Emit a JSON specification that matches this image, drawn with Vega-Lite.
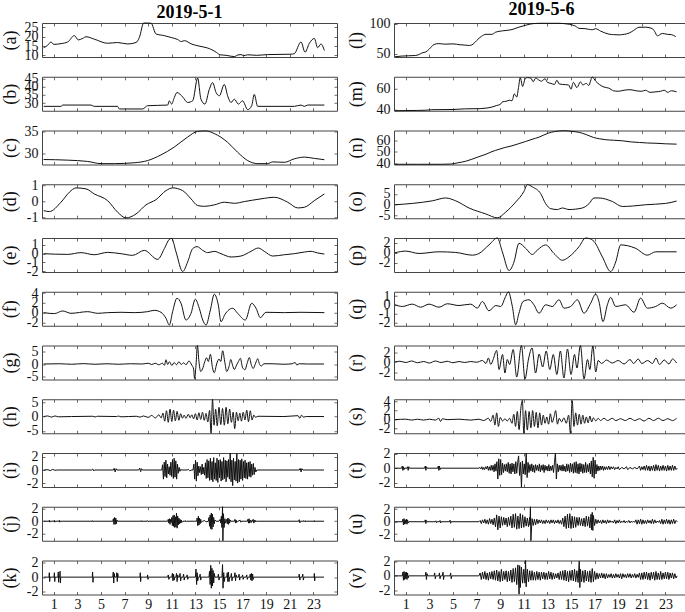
{
"$schema":"https://vega.github.io/schema/vega-lite/v6.json",
"padding":{"left":0,"top":0,"right":0,"bottom":0},
"config":{
 "font":"Liberation Serif",
 "view":{"stroke":"#444","strokeWidth":1},
 "line":{"color":"#111","strokeWidth":1,"clip":true,"interpolate":"monotone"},
 "axis":{"labelFont":"Liberation Serif","labelFontSize":14,"labelColor":"#111","titleFont":"Liberation Serif","titleFontSize":18,"titleFontWeight":"normal","titleColor":"#111","ticks":false,"domain":false,"grid":true,"gridColor":"#444","gridOpacity":1,"gridWidth":0.8,"labelOverlap":false,"labelFlush":false,"labelPadding":4},
 "axisX":{"gridDash":[3,28],"labelPadding":3},
 "axisY":{"gridDash":[3,289],"labelExpr":"''+datum.value"},
 "title":{"font":"Liberation Serif","fontSize":18,"fontWeight":"bold","color":"#000","anchor":"middle","offset":-2,"frame":"group"}
},
"datasets":{
"a":[{"x":0.14,"y":14.1},{"x":0.48,"y":15.4},{"x":0.76,"y":17.2},{"x":0.99,"y":15.9},{"x":1.61,"y":16.3},{"x":2.18,"y":17.2},{"x":2.74,"y":20.6},{"x":3.08,"y":18.3},{"x":3.45,"y":19.1},{"x":3.73,"y":20.0},{"x":4.43,"y":18.7},{"x":5.56,"y":16.5},{"x":6.41,"y":16.9},{"x":7.26,"y":16.1},{"x":7.97,"y":16.9},{"x":8.25,"y":19.6},{"x":8.62,"y":27.4},{"x":9.24,"y":27.3},{"x":9.66,"y":21.5},{"x":10.37,"y":20.6},{"x":11.0,"y":19.5},{"x":11.5,"y":18.5},{"x":11.8,"y":17.4},{"x":12.06,"y":17.9},{"x":12.7,"y":16.0},{"x":13.3,"y":15.0},{"x":14.0,"y":14.0},{"x":14.4,"y":13.0},{"x":14.8,"y":11.5},{"x":15.1,"y":10.3},{"x":15.6,"y":10.0},{"x":16.3,"y":9.3},{"x":16.6,"y":10.2},{"x":16.86,"y":10.4},{"x":17.1,"y":9.8},{"x":17.43,"y":10.3},{"x":18.2,"y":10.0},{"x":19.12,"y":10.4},{"x":21.1,"y":10.6},{"x":21.38,"y":10.9},{"x":21.95,"y":17.2},{"x":22.29,"y":11.7},{"x":22.66,"y":16.5},{"x":23.08,"y":19.1},{"x":23.36,"y":14.1},{"x":23.64,"y":16.1},{"x":23.93,"y":12.6}],
"b":[{"x":0.14,"y":28},{"x":1.61,"y":28},{"x":1.75,"y":28.8},{"x":4.15,"y":28.8},{"x":4.43,"y":28},{"x":6.41,"y":28},{"x":6.55,"y":26.4},{"x":8.53,"y":26.4},{"x":8.95,"y":28.4},{"x":10.65,"y":28.8},{"x":10.79,"y":31.4},{"x":10.99,"y":29.4},{"x":11.21,"y":33.4},{"x":11.44,"y":36.5},{"x":11.92,"y":33.8},{"x":12.34,"y":30.4},{"x":12.77,"y":31.4},{"x":13.19,"y":45.4},{"x":13.47,"y":32.4},{"x":13.81,"y":29.4},{"x":14.18,"y":38.5},{"x":14.46,"y":42.6},{"x":14.75,"y":36.5},{"x":15.03,"y":34.5},{"x":15.45,"y":41.5},{"x":15.73,"y":34.5},{"x":16.02,"y":30.4},{"x":16.3,"y":32.4},{"x":16.64,"y":29.4},{"x":17.0,"y":31.4},{"x":17.43,"y":26},{"x":17.77,"y":28.4},{"x":17.99,"y":35.3},{"x":18.28,"y":28},{"x":21.38,"y":28},{"x":21.95,"y":28.8},{"x":22.23,"y":28},{"x":22.51,"y":28.8},{"x":23.93,"y":28.8}],
"c":[{"x":0.14,"y":28.54},{"x":2.18,"y":28.4},{"x":3.87,"y":28.1},{"x":5.0,"y":27.6},{"x":6.13,"y":27.6},{"x":7.82,"y":27.8},{"x":8.95,"y":28.3},{"x":10.08,"y":29.6},{"x":11.21,"y":31.4},{"x":12.34,"y":33.7},{"x":13.19,"y":35},{"x":13.9,"y":35.1},{"x":14.6,"y":34.5},{"x":15.73,"y":32.5},{"x":16.58,"y":30.2},{"x":17.43,"y":28.3},{"x":18.28,"y":27.6},{"x":19.12,"y":27.6},{"x":19.55,"y":28},{"x":20.54,"y":27.9},{"x":21.38,"y":28.7},{"x":22.23,"y":29.1},{"x":23.08,"y":28.8},{"x":23.93,"y":28.5}],
"d":[{"x":0.14,"y":-0.59},{"x":0.62,"y":-0.65},{"x":1.61,"y":-0.06},{"x":2.32,"y":0.57},{"x":2.88,"y":0.84},{"x":3.73,"y":0.78},{"x":4.43,"y":0.46},{"x":5.56,"y":0.04},{"x":6.41,"y":-0.69},{"x":7.12,"y":-1.05},{"x":7.97,"y":-0.8},{"x":8.81,"y":-0.23},{"x":9.66,"y":0.1},{"x":10.51,"y":0.67},{"x":11.07,"y":0.84},{"x":11.92,"y":0.67},{"x":12.63,"y":0.15},{"x":13.19,"y":-0.27},{"x":13.76,"y":-0.32},{"x":14.6,"y":-0.23},{"x":15.45,"y":-0.06},{"x":16.3,"y":-0.13},{"x":17.15,"y":-0.02},{"x":18.56,"y":0.15},{"x":19.69,"y":0.25},{"x":20.82,"y":-0.06},{"x":21.67,"y":-0.42},{"x":22.23,"y":-0.38},{"x":23.08,"y":0.04},{"x":23.93,"y":0.46}],
"e":[{"x":0.14,"y":0},{"x":2.18,"y":-0.08},{"x":3.31,"y":0.12},{"x":4.43,"y":-0.12},{"x":5.56,"y":0.15},{"x":6.69,"y":0},{"x":7.68,"y":-0.19},{"x":8.67,"y":0.38},{"x":9.8,"y":-0.65},{"x":10.37,"y":0.58},{"x":10.79,"y":1.65},{"x":10.99,"y":1.75},{"x":11.36,"y":0.19},{"x":11.92,"y":-2.04},{"x":12.34,"y":-0.96},{"x":12.77,"y":0.58},{"x":13.14,"y":0.81},{"x":13.62,"y":0.38},{"x":14.04,"y":0.12},{"x":14.6,"y":0.27},{"x":15.17,"y":0},{"x":16.02,"y":-0.38},{"x":16.86,"y":-0.27},{"x":17.71,"y":0.27},{"x":18.33,"y":0.65},{"x":18.84,"y":0.27},{"x":19.55,"y":-0.27},{"x":20.54,"y":-0.12},{"x":21.38,"y":0},{"x":22.23,"y":0.19},{"x":22.8,"y":0.27},{"x":23.36,"y":0.08},{"x":23.93,"y":-0.04}],
"f":[{"x":0.14,"y":0},{"x":1.05,"y":-0.2},{"x":1.75,"y":0.34},{"x":2.46,"y":-0.14},{"x":3.87,"y":0.2},{"x":4.72,"y":-0.14},{"x":5.56,"y":0},{"x":6.69,"y":0.07},{"x":7.82,"y":0},{"x":8.95,"y":0.2},{"x":9.52,"y":0.48},{"x":10.08,"y":0.07},{"x":10.51,"y":-1.17},{"x":10.79,"y":-2.55},{"x":11.07,"y":0.2},{"x":11.44,"y":2.97},{"x":11.78,"y":1.93},{"x":12.2,"y":-1.52},{"x":12.63,"y":-0.14},{"x":12.99,"y":2.76},{"x":13.33,"y":0.9},{"x":13.62,"y":-1.52},{"x":13.9,"y":-2.55},{"x":14.27,"y":0.55},{"x":14.6,"y":3.79},{"x":14.94,"y":1.59},{"x":15.17,"y":-1.86},{"x":15.51,"y":-0.34},{"x":16.16,"y":0.9},{"x":16.58,"y":-0.14},{"x":17.23,"y":-1.52},{"x":17.77,"y":1.93},{"x":18.14,"y":0.9},{"x":18.5,"y":-1.03},{"x":18.98,"y":0.07},{"x":20.54,"y":0},{"x":21.95,"y":0.07},{"x":23.93,"y":0}],
"g":[{"x":0.14,"y":0},{"x":1.5,"y":0.1},{"x":2.5,"y":-0.1},{"x":3.5,"y":0.15},{"x":4.5,"y":-0.1},{"x":5.5,"y":0.1},{"x":6.5,"y":-0.1},{"x":7.5,"y":0.1},{"x":8.5,"y":0},{"x":9.0,"y":0.3},{"x":9.3,"y":-0.2},{"x":9.6,"y":0.3},{"x":9.9,"y":-0.3},{"x":10.2,"y":0.3},{"x":10.38,"y":-0.5},{"x":10.5,"y":1.7},{"x":10.65,"y":-0.2},{"x":10.8,"y":0.9},{"x":11.0,"y":-0.6},{"x":11.2,"y":0.6},{"x":11.4,"y":-0.3},{"x":11.6,"y":0.9},{"x":11.8,"y":-0.2},{"x":12.0,"y":0.5},{"x":12.2,"y":-0.3},{"x":12.45,"y":1.2},{"x":12.7,"y":-0.5},{"x":12.85,"y":-2},{"x":12.93,"y":-5.9},{"x":13.05,"y":-0.5},{"x":13.17,"y":7.4},{"x":13.3,"y":1},{"x":13.45,"y":-3},{"x":13.6,"y":-2},{"x":13.8,"y":1},{"x":13.95,"y":2.5},{"x":14.1,"y":1},{"x":14.27,"y":3.9},{"x":14.45,"y":-1.5},{"x":14.6,"y":-3.5},{"x":14.8,"y":0},{"x":15.0,"y":2},{"x":15.15,"y":1},{"x":15.31,"y":5.3},{"x":15.5,"y":0.5},{"x":15.65,"y":-3},{"x":15.85,"y":-1},{"x":16.0,"y":1.8},{"x":16.15,"y":-0.5},{"x":16.3,"y":-2.2},{"x":16.5,"y":-0.3},{"x":16.65,"y":1},{"x":16.81,"y":2.3},{"x":17.0,"y":-1.5},{"x":17.2,"y":-2.3},{"x":17.4,"y":0.5},{"x":17.57,"y":2.6},{"x":17.75,"y":-0.5},{"x":17.9,"y":-1.8},{"x":18.1,"y":0.3},{"x":18.28,"y":2.1},{"x":18.45,"y":-0.3},{"x":18.6,"y":-0.8},{"x":18.8,"y":0.1},{"x":19.5,"y":0.1},{"x":20.5,"y":-0.1},{"x":21.2,"y":0.1},{"x":21.45,"y":0.6},{"x":21.6,"y":-0.4},{"x":21.8,"y":0.1},{"x":22.5,"y":0},{"x":23.9,"y":0}],
"h":[{"x":0.14,"y":0},{"x":0.5,"y":0.2},{"x":0.8,"y":-0.2},{"x":1.1,"y":0.2},{"x":1.4,"y":-0.1},{"x":2.5,"y":0},{"x":4.3,"y":0.1},{"x":4.5,"y":-0.15},{"x":4.7,"y":0.1},{"x":6.3,"y":0},{"x":6.5,"y":0.15},{"x":6.7,"y":-0.1},{"x":8.0,"y":0.1},{"x":8.3,"y":-0.2},{"x":8.6,"y":0.2},{"x":9.0,"y":-0.3},{"x":9.3,"y":0.4},{"x":9.6,"y":-0.5},{"x":9.9,"y":0.6},{"x":10.1,"y":-0.5},{"x":10.25,"y":1.2},{"x":10.4,"y":-1.6},{"x":10.55,"y":2.0},{"x":10.7,"y":-2.0},{"x":10.85,"y":2.6},{"x":11.0,"y":-1.7},{"x":11.15,"y":2.2},{"x":11.3,"y":-1.5},{"x":11.45,"y":1.8},{"x":11.6,"y":-1.3},{"x":11.75,"y":1.0},{"x":11.9,"y":-0.6},{"x":12.05,"y":0.5},{"x":12.2,"y":-0.6},{"x":12.4,"y":0.8},{"x":12.55,"y":-0.4},{"x":12.7,"y":0.6},{"x":12.85,"y":-0.8},{"x":13.0,"y":1.0},{"x":13.15,"y":-1.2},{"x":13.3,"y":1.3},{"x":13.45,"y":-1},{"x":13.6,"y":1.5},{"x":13.75,"y":-1.3},{"x":13.9,"y":1.1},{"x":14.05,"y":-1.9},{"x":14.2,"y":2.1},{"x":14.33,"y":-5.8},{"x":14.45,"y":6.0},{"x":14.58,"y":-3},{"x":14.72,"y":2.5},{"x":14.85,"y":-3.2},{"x":15.0,"y":3.2},{"x":15.15,"y":-2.8},{"x":15.3,"y":2.8},{"x":15.45,"y":-3},{"x":15.6,"y":3.2},{"x":15.75,"y":-2.5},{"x":15.9,"y":2.6},{"x":16.05,"y":-2},{"x":16.2,"y":1.5},{"x":16.33,"y":-4.2},{"x":16.48,"y":1.5},{"x":16.62,"y":-1.5},{"x":16.77,"y":1.2},{"x":16.9,"y":-1.6},{"x":17.05,"y":1.5},{"x":17.2,"y":-1.2},{"x":17.35,"y":2.2},{"x":17.5,"y":-1.8},{"x":17.65,"y":2.0},{"x":17.8,"y":-1.2},{"x":17.95,"y":0.5},{"x":18.1,"y":-0.3},{"x":18.3,"y":0.1},{"x":20.5,"y":0},{"x":21.7,"y":0.3},{"x":21.85,"y":-0.6},{"x":22.0,"y":0.5},{"x":22.15,"y":-0.2},{"x":22.4,"y":0},{"x":23.9,"y":0}],
"i":[{"x":0.14,"y":0},{"x":0.5,"y":0.05},{"x":0.7,"y":-0.1},{"x":0.9,"y":0.1},{"x":1.1,"y":-0.05},{"x":1.3,"y":0},{"x":4.2,"y":0},{"x":4.3,"y":0.15},{"x":4.38,"y":-0.15},{"x":4.45,"y":0},{"x":6.05,"y":0},{"x":6.12,"y":0.25},{"x":6.2,"y":-0.3},{"x":6.28,"y":0.2},{"x":6.35,"y":0},{"x":8.2,"y":0},{"x":8.28,"y":0.3},{"x":8.36,"y":-0.25},{"x":8.44,"y":0.2},{"x":8.5,"y":0},{"x":10.15,"y":0},{"x":10.22,"y":0.8},{"x":10.29,"y":-1.4},{"x":10.36,"y":1.2},{"x":10.43,"y":-1.0},{"x":10.5,"y":1.5},{"x":10.57,"y":-1.2},{"x":10.64,"y":0.9},{"x":10.71,"y":-0.6},{"x":10.78,"y":0.5},{"x":10.85,"y":-0.8},{"x":10.92,"y":1.2},{"x":10.99,"y":-1.0},{"x":11.06,"y":1.6},{"x":11.13,"y":-1.3},{"x":11.2,"y":1.8},{"x":11.27,"y":-1.1},{"x":11.34,"y":1.4},{"x":11.41,"y":-1.4},{"x":11.48,"y":0.9},{"x":11.55,"y":-0.5},{"x":11.62,"y":0.4},{"x":11.69,"y":-0.2},{"x":11.76,"y":0.1},{"x":11.85,"y":0},{"x":12.3,"y":0},{"x":12.4,"y":0.1},{"x":12.5,"y":-0.1},{"x":12.7,"y":0},{"x":12.8,"y":0},{"x":12.87,"y":0.9},{"x":12.94,"y":-1.4},{"x":13.01,"y":1.5},{"x":13.08,"y":-1.7},{"x":13.15,"y":1.2},{"x":13.22,"y":-0.9},{"x":13.29,"y":0.6},{"x":13.36,"y":-0.4},{"x":13.43,"y":0.5},{"x":13.5,"y":-0.7},{"x":13.57,"y":0.9},{"x":13.64,"y":-0.6},{"x":13.71,"y":0.4},{"x":13.78,"y":-0.8},{"x":13.85,"y":1.1},{"x":13.92,"y":-1.3},{"x":13.99,"y":1.6},{"x":14.06,"y":-1.2},{"x":14.13,"y":1.4},{"x":14.2,"y":-1.6},{"x":14.27,"y":1.8},{"x":14.34,"y":-1.5},{"x":14.41,"y":1.3},{"x":14.48,"y":-1.8},{"x":14.55,"y":1.9},{"x":14.62,"y":-1.4},{"x":14.69,"y":1.1},{"x":14.76,"y":-1.6},{"x":14.83,"y":1.8},{"x":14.9,"y":-1.9},{"x":14.97,"y":1.5},{"x":15.04,"y":-1.2},{"x":15.11,"y":1.6},{"x":15.18,"y":-1.7},{"x":15.25,"y":1.3},{"x":15.32,"y":-1.5},{"x":15.39,"y":1.9},{"x":15.46,"y":-1.3},{"x":15.53,"y":1.5},{"x":15.6,"y":-1.8},{"x":15.67,"y":1.4},{"x":15.74,"y":-1.1},{"x":15.81,"y":1.6},{"x":15.88,"y":-1.4},{"x":15.95,"y":2.6},{"x":16.02,"y":-1.8},{"x":16.09,"y":1.5},{"x":16.16,"y":-2.4},{"x":16.23,"y":1.8},{"x":16.3,"y":-1.5},{"x":16.37,"y":1.3},{"x":16.44,"y":-1.7},{"x":16.51,"y":2.5},{"x":16.58,"y":-2.0},{"x":16.65,"y":1.6},{"x":16.72,"y":-1.8},{"x":16.79,"y":1.5},{"x":16.86,"y":-1.4},{"x":16.93,"y":1.7},{"x":17.0,"y":-1.6},{"x":17.07,"y":1.3},{"x":17.14,"y":-1.2},{"x":17.21,"y":1.5},{"x":17.28,"y":-1.3},{"x":17.35,"y":1.1},{"x":17.42,"y":-1.4},{"x":17.49,"y":1.2},{"x":17.56,"y":-1.0},{"x":17.63,"y":1.3},{"x":17.7,"y":-1.1},{"x":17.77,"y":0.9},{"x":17.84,"y":-0.8},{"x":17.91,"y":1.0},{"x":17.98,"y":-0.7},{"x":18.05,"y":0.4},{"x":18.12,"y":-0.3},{"x":18.2,"y":0},{"x":21.8,"y":0},{"x":21.88,"y":0.25},{"x":21.95,"y":-0.3},{"x":22.02,"y":0.2},{"x":22.1,"y":0},{"x":23.9,"y":0}],
"j":[{"x":0.14,"y":0},{"x":0.58,"y":0},{"x":0.62,"y":0.15},{"x":0.66,"y":-0.15},{"x":0.7,"y":0},{"x":1.01,"y":0},{"x":1.05,"y":0.15},{"x":1.09,"y":-0.15},{"x":1.13,"y":0},{"x":1.43,"y":0},{"x":1.47,"y":0.15},{"x":1.51,"y":-0.15},{"x":1.55,"y":0},{"x":4.25,"y":0},{"x":4.29,"y":0.1},{"x":4.33,"y":-0.1},{"x":4.37,"y":0},{"x":6.0,"y":0},{"x":6.05,"y":0.4},{"x":6.1,"y":-0.5},{"x":6.15,"y":0.6},{"x":6.2,"y":-0.5},{"x":6.25,"y":0.5},{"x":6.3,"y":-0.4},{"x":6.35,"y":0.2},{"x":6.4,"y":0},{"x":8.35,"y":0},{"x":8.39,"y":0.1},{"x":8.43,"y":-0.1},{"x":8.47,"y":0},{"x":8.9,"y":0},{"x":8.95,"y":0.1},{"x":9.0,"y":-0.1},{"x":9.05,"y":0},{"x":10.65,"y":0},{"x":10.7,"y":0.3},{"x":10.75,"y":-0.3},{"x":10.8,"y":0.4},{"x":10.85,"y":-0.5},{"x":10.9,"y":0.3},{"x":10.95,"y":-0.2},{"x":11.0,"y":0.6},{"x":11.05,"y":-0.7},{"x":11.1,"y":0.9},{"x":11.15,"y":-0.8},{"x":11.2,"y":1.0},{"x":11.25,"y":-1.0},{"x":11.3,"y":0.7},{"x":11.35,"y":-0.9},{"x":11.4,"y":1.3},{"x":11.45,"y":-1.1},{"x":11.5,"y":0.8},{"x":11.55,"y":-0.6},{"x":11.6,"y":0.5},{"x":11.65,"y":-0.4},{"x":11.7,"y":0.3},{"x":11.75,"y":-0.3},{"x":11.8,"y":0.2},{"x":11.85,"y":-0.2},{"x":11.95,"y":0},{"x":12.1,"y":0},{"x":12.15,"y":0.1},{"x":12.2,"y":-0.1},{"x":12.25,"y":0},{"x":13.1,"y":0},{"x":13.15,"y":0.5},{"x":13.2,"y":-0.7},{"x":13.25,"y":0.8},{"x":13.3,"y":-0.6},{"x":13.35,"y":0.5},{"x":13.4,"y":-0.4},{"x":13.45,"y":0.3},{"x":13.5,"y":-0.2},{"x":13.6,"y":0},{"x":13.8,"y":0.1},{"x":13.9,"y":-0.1},{"x":14.1,"y":0},{"x":14.15,"y":0.6},{"x":14.2,"y":-0.8},{"x":14.25,"y":1.0},{"x":14.3,"y":-1.2},{"x":14.35,"y":1.3},{"x":14.4,"y":-1.3},{"x":14.45,"y":1.1},{"x":14.5,"y":-0.9},{"x":14.55,"y":0.6},{"x":14.6,"y":-0.4},{"x":14.65,"y":0.2},{"x":14.75,"y":0},{"x":15.0,"y":0},{"x":15.1,"y":0.3},{"x":15.15,"y":-0.3},{"x":15.2,"y":0.8},{"x":15.25,"y":-1.0},{"x":15.3,"y":2.3},{"x":15.33,"y":-3.1},{"x":15.38,"y":1.2},{"x":15.43,"y":-1.0},{"x":15.5,"y":0.4},{"x":15.55,"y":-0.3},{"x":15.65,"y":0.3},{"x":15.7,"y":-0.4},{"x":15.75,"y":0.5},{"x":15.8,"y":-0.5},{"x":15.85,"y":0.4},{"x":15.9,"y":-0.3},{"x":15.95,"y":0.2},{"x":16.0,"y":0},{"x":16.3,"y":0},{"x":16.35,"y":0.3},{"x":16.4,"y":-0.3},{"x":16.45,"y":0.2},{"x":16.5,"y":-0.2},{"x":16.6,"y":0},{"x":16.8,"y":0.15},{"x":16.85,"y":-0.15},{"x":16.9,"y":0},{"x":17.4,"y":0},{"x":17.45,"y":0.3},{"x":17.5,"y":-0.3},{"x":17.55,"y":0.4},{"x":17.6,"y":-0.3},{"x":17.7,"y":0.2},{"x":17.75,"y":-0.2},{"x":17.9,"y":0.3},{"x":17.95,"y":-0.3},{"x":18.05,"y":0.2},{"x":18.1,"y":-0.1},{"x":18.15,"y":0},{"x":21.75,"y":0},{"x":21.8,"y":0.25},{"x":21.85,"y":-0.25},{"x":21.9,"y":0},{"x":22.1,"y":0},{"x":22.15,"y":0.1},{"x":22.2,"y":-0.1},{"x":22.3,"y":0.1},{"x":22.35,"y":-0.1},{"x":22.4,"y":0},{"x":23.05,"y":0},{"x":23.08,"y":0.1},{"x":23.11,"y":-0.1},{"x":23.15,"y":0},{"x":23.9,"y":0}],
"k":[{"x":0.14,"y":0},{"x":0.59,"y":0},{"x":0.62,"y":0.6},{"x":0.65,"y":-0.6},{"x":0.68,"y":0},{"x":1.02,"y":0},{"x":1.05,"y":0.6},{"x":1.08,"y":-0.6},{"x":1.11,"y":0},{"x":1.35,"y":0},{"x":1.38,"y":0.7},{"x":1.41,"y":-0.7},{"x":1.44,"y":0},{"x":1.5,"y":0},{"x":1.53,"y":0.8},{"x":1.56,"y":-0.8},{"x":1.59,"y":0},{"x":4.26,"y":0},{"x":4.29,"y":0.7},{"x":4.32,"y":-0.7},{"x":4.35,"y":0},{"x":6.0,"y":0},{"x":6.04,"y":0.7},{"x":6.08,"y":-0.8},{"x":6.12,"y":0.5},{"x":6.16,"y":0},{"x":6.3,"y":0},{"x":6.34,"y":0.6},{"x":6.38,"y":-0.6},{"x":6.42,"y":0.5},{"x":6.46,"y":0},{"x":8.3,"y":0},{"x":8.33,"y":0.6},{"x":8.36,"y":-0.6},{"x":8.39,"y":0},{"x":8.92,"y":0},{"x":8.95,"y":0.3},{"x":8.98,"y":-0.3},{"x":9.01,"y":0},{"x":10.65,"y":0},{"x":10.7,"y":0.3},{"x":10.75,"y":-0.3},{"x":10.8,"y":0},{"x":11.0,"y":0},{"x":11.05,"y":0.5},{"x":11.1,"y":-0.5},{"x":11.15,"y":0.4},{"x":11.2,"y":-0.4},{"x":11.25,"y":0},{"x":11.35,"y":0},{"x":11.4,"y":0.5},{"x":11.45,"y":-0.6},{"x":11.5,"y":0.3},{"x":11.55,"y":0},{"x":11.65,"y":0},{"x":11.7,"y":0.5},{"x":11.75,"y":-0.5},{"x":11.8,"y":0},{"x":11.95,"y":0},{"x":12.0,"y":0.4},{"x":12.05,"y":-0.4},{"x":12.1,"y":0},{"x":12.25,"y":0},{"x":12.3,"y":0.3},{"x":12.35,"y":-0.3},{"x":12.4,"y":0},{"x":13.0,"y":0},{"x":13.05,"y":1.1},{"x":13.1,"y":-1.0},{"x":13.15,"y":0.6},{"x":13.2,"y":-0.5},{"x":13.25,"y":0},{"x":13.35,"y":0},{"x":13.4,"y":0.4},{"x":13.45,"y":-0.4},{"x":13.5,"y":0},{"x":14.15,"y":0},{"x":14.2,"y":0.8},{"x":14.25,"y":-1.0},{"x":14.3,"y":1.6},{"x":14.35,"y":-1.5},{"x":14.4,"y":1.2},{"x":14.45,"y":-1.2},{"x":14.5,"y":0.9},{"x":14.55,"y":-0.8},{"x":14.6,"y":0.5},{"x":14.65,"y":0},{"x":14.9,"y":0},{"x":14.95,"y":0.4},{"x":15.0,"y":-0.4},{"x":15.05,"y":0},{"x":15.25,"y":0},{"x":15.3,"y":1.7},{"x":15.34,"y":-1.5},{"x":15.4,"y":0.6},{"x":15.45,"y":-0.6},{"x":15.5,"y":0},{"x":15.65,"y":0},{"x":15.7,"y":0.6},{"x":15.75,"y":-0.6},{"x":15.8,"y":0.7},{"x":15.85,"y":-0.6},{"x":15.9,"y":0},{"x":16.0,"y":0},{"x":16.05,"y":0.5},{"x":16.1,"y":-0.5},{"x":16.15,"y":0},{"x":16.3,"y":0},{"x":16.35,"y":0.6},{"x":16.4,"y":-0.5},{"x":16.45,"y":0.3},{"x":16.5,"y":0},{"x":16.65,"y":0},{"x":16.7,"y":0.4},{"x":16.75,"y":-0.4},{"x":16.8,"y":0},{"x":16.95,"y":0},{"x":17.0,"y":0.3},{"x":17.05,"y":-0.3},{"x":17.1,"y":0},{"x":17.3,"y":0},{"x":17.35,"y":0.3},{"x":17.4,"y":-0.3},{"x":17.45,"y":0},{"x":17.6,"y":0},{"x":17.65,"y":0.4},{"x":17.7,"y":-0.4},{"x":17.75,"y":0.5},{"x":17.8,"y":-0.5},{"x":17.85,"y":0.4},{"x":17.9,"y":-0.3},{"x":17.95,"y":0},{"x":21.75,"y":0},{"x":21.8,"y":0.4},{"x":21.85,"y":-0.4},{"x":21.9,"y":0},{"x":22.05,"y":0},{"x":22.1,"y":0.4},{"x":22.15,"y":-0.4},{"x":22.2,"y":0},{"x":23.05,"y":0},{"x":23.08,"y":0.5},{"x":23.11,"y":-0.5},{"x":23.14,"y":0},{"x":23.9,"y":0}],
"l":[{"x":0.08,"y":44.8},{"x":0.6,"y":46},{"x":1.2,"y":46.5},{"x":1.8,"y":47},{"x":2.1,"y":48.5},{"x":2.4,"y":51.5},{"x":2.7,"y":53},{"x":3.0,"y":58},{"x":3.4,"y":65.5},{"x":3.8,"y":67},{"x":4.3,"y":66},{"x":5.0,"y":66.5},{"x":5.6,"y":65},{"x":6.0,"y":64.5},{"x":6.4,"y":63.8},{"x":6.7,"y":66},{"x":7.0,"y":72},{"x":7.4,"y":79},{"x":7.8,"y":82.5},{"x":8.3,"y":82.5},{"x":8.6,"y":86},{"x":8.9,"y":87.5},{"x":9.5,"y":89},{"x":10.0,"y":90.5},{"x":10.5,"y":94},{"x":11.2,"y":98},{"x":11.8,"y":100.5},{"x":12.3,"y":101},{"x":13.0,"y":101},{"x":14.0,"y":101},{"x":14.6,"y":100},{"x":15.1,"y":98.3},{"x":15.4,"y":96},{"x":15.68,"y":92.5},{"x":16.2,"y":92},{"x":16.5,"y":91},{"x":16.81,"y":90.2},{"x":17.09,"y":92},{"x":17.5,"y":88},{"x":18.22,"y":82.8},{"x":18.6,"y":82},{"x":19.07,"y":81.6},{"x":19.5,"y":82.5},{"x":19.92,"y":84.5},{"x":20.3,"y":89},{"x":20.76,"y":94.3},{"x":21.33,"y":94.5},{"x":21.89,"y":92},{"x":22.1,"y":87},{"x":22.32,"y":79.9},{"x":22.74,"y":84},{"x":23.16,"y":82.5},{"x":23.5,"y":82},{"x":23.87,"y":78.7}],
"m":[{"x":0.08,"y":39},{"x":1.0,"y":39.2},{"x":2.0,"y":39.3},{"x":2.7,"y":39.5},{"x":3.2,"y":40},{"x":5.0,"y":40.2},{"x":6.0,"y":40.8},{"x":7.3,"y":41},{"x":7.8,"y":41.5},{"x":8.3,"y":42.5},{"x":8.7,"y":44},{"x":9.0,"y":45},{"x":9.2,"y":47.5},{"x":9.5,"y":48},{"x":9.8,"y":49},{"x":10.0,"y":48.5},{"x":10.2,"y":55},{"x":10.4,"y":52},{"x":10.55,"y":61},{"x":10.7,"y":70.5},{"x":10.9,"y":62},{"x":11.1,"y":69},{"x":11.3,"y":70.5},{"x":11.6,"y":70},{"x":11.8,"y":66.5},{"x":12.0,"y":70},{"x":12.3,"y":68},{"x":12.5,"y":67},{"x":12.8,"y":69.5},{"x":13.0,"y":66},{"x":13.3,"y":65},{"x":13.6,"y":64},{"x":13.8,"y":68},{"x":14.0,"y":64.5},{"x":14.3,"y":64},{"x":14.8,"y":63.5},{"x":15.0,"y":59.5},{"x":15.2,"y":66},{"x":15.5,"y":61},{"x":15.8,"y":66.5},{"x":16.0,"y":63.5},{"x":16.3,"y":65},{"x":16.5,"y":63},{"x":16.8,"y":71},{"x":17.1,"y":67},{"x":17.4,"y":64},{"x":17.8,"y":61.5},{"x":18.2,"y":60.5},{"x":18.6,"y":58},{"x":19.0,"y":57.5},{"x":19.5,"y":58.5},{"x":20.0,"y":59},{"x":20.5,"y":58},{"x":21.0,"y":57.5},{"x":21.3,"y":58.5},{"x":21.7,"y":56.5},{"x":22.2,"y":57},{"x":22.6,"y":57.5},{"x":22.9,"y":58.5},{"x":23.2,"y":56.5},{"x":23.5,"y":58},{"x":23.95,"y":57}],
"n":[{"x":0.08,"y":39},{"x":2.0,"y":39},{"x":4.0,"y":39},{"x":4.8,"y":39.2},{"x":5.4,"y":40.3},{"x":6.07,"y":41.7},{"x":6.6,"y":43.5},{"x":7.2,"y":45.8},{"x":7.8,"y":48},{"x":8.3,"y":50.3},{"x":8.9,"y":52.4},{"x":9.4,"y":54},{"x":10.0,"y":55.5},{"x":10.6,"y":57.5},{"x":11.16,"y":59.4},{"x":11.7,"y":61.3},{"x":12.3,"y":63.3},{"x":12.7,"y":65.2},{"x":13.1,"y":66.9},{"x":13.6,"y":68.2},{"x":14.0,"y":68.8},{"x":14.5,"y":69},{"x":15.0,"y":68.5},{"x":15.7,"y":67.5},{"x":16.3,"y":65.5},{"x":16.9,"y":63},{"x":17.4,"y":61.8},{"x":17.9,"y":61},{"x":18.6,"y":60.5},{"x":19.35,"y":60},{"x":20.1,"y":59},{"x":20.8,"y":58.5},{"x":21.5,"y":58},{"x":22.2,"y":57.8},{"x":23.0,"y":57.3},{"x":23.95,"y":57}],
"o":[{"x":0.08,"y":0},{"x":1.55,"y":0.6},{"x":3.25,"y":1.8},{"x":4.38,"y":3.1},{"x":5.23,"y":1.8},{"x":6.36,"y":-1.5},{"x":7.77,"y":-4.2},{"x":8.76,"y":-6},{"x":9.46,"y":-3.4},{"x":10.31,"y":1.2},{"x":11.02,"y":6.2},{"x":11.3,"y":9.3},{"x":11.72,"y":8.2},{"x":12.43,"y":5.1},{"x":12.85,"y":0.5},{"x":13.28,"y":-1.8},{"x":13.84,"y":-2.2},{"x":14.27,"y":-1.5},{"x":14.83,"y":-2.2},{"x":15.96,"y":-1.5},{"x":16.53,"y":0.5},{"x":16.95,"y":3.1},{"x":17.37,"y":3.1},{"x":18.5,"y":1.5},{"x":19.35,"y":-0.8},{"x":20.2,"y":-0.6},{"x":21.33,"y":0},{"x":23.02,"y":0.6},{"x":23.95,"y":1.7}],
"p":[{"x":0.08,"y":0},{"x":0.99,"y":0.34},{"x":2.12,"y":-0.14},{"x":3.81,"y":0.2},{"x":5.23,"y":0.07},{"x":6.64,"y":-0.48},{"x":7.2,"y":-0.14},{"x":8.05,"y":1.6},{"x":8.76,"y":3.0},{"x":9.18,"y":0.2},{"x":9.75,"y":-3.6},{"x":10.17,"y":-1.86},{"x":10.59,"y":1.93},{"x":11.16,"y":0.9},{"x":11.72,"y":-0.34},{"x":12.15,"y":0.55},{"x":12.85,"y":1.6},{"x":13.56,"y":-0.14},{"x":14.27,"y":-1.52},{"x":14.83,"y":-0.83},{"x":15.68,"y":1.24},{"x":16.24,"y":3.0},{"x":16.53,"y":2.9},{"x":16.95,"y":2.3},{"x":17.66,"y":-0.83},{"x":18.36,"y":-3.8},{"x":18.79,"y":-1.86},{"x":19.21,"y":1.6},{"x":19.77,"y":1.45},{"x":20.48,"y":0.9},{"x":21.47,"y":-0.48},{"x":22.18,"y":0.2},{"x":23.31,"y":0.2},{"x":23.95,"y":0.2}],
"q":[{"x":0.08,"y":0},{"x":0.71,"y":-0.19},{"x":1.55,"y":0.08},{"x":2.26,"y":-0.27},{"x":2.97,"y":0.08},{"x":3.81,"y":-0.27},{"x":4.52,"y":0.12},{"x":5.51,"y":-0.08},{"x":6.5,"y":0.08},{"x":7.06,"y":-0.38},{"x":7.49,"y":0.38},{"x":8.05,"y":-0.69},{"x":8.62,"y":-0.08},{"x":9.04,"y":-0.19},{"x":9.46,"y":0.96},{"x":9.69,"y":1.5},{"x":10.03,"y":-0.19},{"x":10.31,"y":-2.3},{"x":10.59,"y":-0.96},{"x":10.93,"y":0.38},{"x":11.44,"y":0.58},{"x":11.86,"y":0},{"x":12.29,"y":-0.96},{"x":12.85,"y":0},{"x":13.42,"y":-0.19},{"x":13.98,"y":0.58},{"x":14.41,"y":-0.38},{"x":14.97,"y":-0.19},{"x":15.54,"y":0.58},{"x":16.1,"y":-0.96},{"x":16.67,"y":0.19},{"x":17.09,"y":1.23},{"x":17.37,"y":0.38},{"x":17.71,"y":-1.92},{"x":18.08,"y":0},{"x":18.36,"y":0.85},{"x":18.79,"y":-0.19},{"x":19.63,"y":0},{"x":20.34,"y":-0.85},{"x":20.9,"y":0.77},{"x":21.47,"y":-0.38},{"x":22.18,"y":-0.19},{"x":22.74,"y":0.19},{"x":23.45,"y":-0.38},{"x":23.95,"y":0}],
"r":[{"x":0.08,"y":0},{"x":0.5,"y":0.15},{"x":1.0,"y":-0.1},{"x":1.5,"y":0.2},{"x":2.0,"y":-0.15},{"x":2.5,"y":0.1},{"x":3.0,"y":-0.2},{"x":3.5,"y":0.2},{"x":4.0,"y":-0.1},{"x":4.5,"y":0.15},{"x":5.0,"y":-0.15},{"x":5.5,"y":0.1},{"x":6.0,"y":-0.1},{"x":6.5,"y":0.1},{"x":7.0,"y":-0.05},{"x":7.5,"y":0.3},{"x":7.8,"y":-0.3},{"x":8.0,"y":0.8},{"x":8.2,"y":-0.5},{"x":8.4,"y":0.5},{"x":8.7,"y":2.3},{"x":8.9,"y":-1.5},{"x":9.2,"y":1.5},{"x":9.4,"y":-2.2},{"x":9.6,"y":0.5},{"x":9.8,"y":-0.5},{"x":10.1,"y":2.5},{"x":10.4,"y":-3},{"x":10.8,"y":3.3},{"x":11.1,"y":-3.4},{"x":11.4,"y":0.6},{"x":11.7,"y":2.8},{"x":12.0,"y":-2.2},{"x":12.3,"y":1.6},{"x":12.6,"y":-1},{"x":12.9,"y":2.2},{"x":13.2,"y":-1.5},{"x":13.5,"y":1.5},{"x":13.8,"y":-2.5},{"x":14.1,"y":2.2},{"x":14.4,"y":-3.2},{"x":14.7,"y":2.6},{"x":15.0,"y":-2.5},{"x":15.3,"y":1.5},{"x":15.5,"y":-1.2},{"x":15.8,"y":3.3},{"x":16.1,"y":-3.4},{"x":16.4,"y":0.5},{"x":16.6,"y":-1.5},{"x":16.85,"y":3.2},{"x":17.1,"y":-2},{"x":17.3,"y":0.3},{"x":17.6,"y":-0.3},{"x":18.0,"y":0.4},{"x":18.5,"y":-0.2},{"x":19.0,"y":0.3},{"x":19.5,"y":-0.4},{"x":20.0,"y":0.5},{"x":20.3,"y":-0.3},{"x":20.7,"y":0.6},{"x":21.0,"y":-0.3},{"x":21.5,"y":0.3},{"x":21.9,"y":-0.3},{"x":22.2,"y":0.8},{"x":22.5,"y":-0.5},{"x":22.9,"y":0.4},{"x":23.3,"y":-0.4},{"x":23.6,"y":0.6},{"x":23.95,"y":-0.2}],
"s":[{"x":0.08,"y":0},{"x":1.0,"y":0.1},{"x":1.5,"y":-0.1},{"x":2.0,"y":0.1},{"x":2.5,"y":-0.1},{"x":3.0,"y":0.1},{"x":3.5,"y":-0.1},{"x":3.8,"y":0.3},{"x":3.95,"y":-0.4},{"x":4.1,"y":0.2},{"x":4.5,"y":0},{"x":5.5,"y":0.1},{"x":6.5,"y":-0.1},{"x":7.2,"y":0.1},{"x":7.6,"y":-0.2},{"x":8.0,"y":0.3},{"x":8.2,"y":-0.4},{"x":8.4,"y":1.0},{"x":8.55,"y":-1.2},{"x":8.7,"y":1.5},{"x":8.85,"y":-1.5},{"x":9.0,"y":0.5},{"x":9.2,"y":-0.3},{"x":9.4,"y":0.2},{"x":9.6,"y":-0.3},{"x":9.8,"y":0.3},{"x":10.0,"y":-0.8},{"x":10.15,"y":1.2},{"x":10.3,"y":-1.5},{"x":10.45,"y":1.8},{"x":10.6,"y":-2.2},{"x":10.75,"y":2.5},{"x":10.88,"y":4.3},{"x":11.0,"y":-3.0},{"x":11.15,"y":2.0},{"x":11.3,"y":-2.3},{"x":11.45,"y":1.8},{"x":11.6,"y":-1.8},{"x":11.75,"y":2.0},{"x":11.9,"y":-1.5},{"x":12.05,"y":1.6},{"x":12.2,"y":-1.8},{"x":12.35,"y":1.5},{"x":12.5,"y":-1.2},{"x":12.65,"y":1.0},{"x":12.8,"y":-0.8},{"x":12.95,"y":0.6},{"x":13.1,"y":-1.0},{"x":13.25,"y":1.3},{"x":13.4,"y":-0.6},{"x":13.55,"y":0.5},{"x":13.7,"y":2.0},{"x":13.85,"y":-1.0},{"x":14.0,"y":0.3},{"x":14.2,"y":-0.5},{"x":14.4,"y":0.4},{"x":14.6,"y":-0.8},{"x":14.8,"y":1.0},{"x":14.95,"y":-3.0},{"x":15.1,"y":4.2},{"x":15.25,"y":-1.5},{"x":15.4,"y":1.5},{"x":15.55,"y":-1.2},{"x":15.7,"y":1.2},{"x":15.85,"y":-1.0},{"x":16.0,"y":1.0},{"x":16.15,"y":-0.8},{"x":16.3,"y":0.6},{"x":16.45,"y":-0.7},{"x":16.6,"y":0.8},{"x":16.75,"y":-0.5},{"x":16.9,"y":0.4},{"x":17.1,"y":-0.3},{"x":17.3,"y":0.3},{"x":17.5,"y":-0.2},{"x":17.8,"y":0.3},{"x":18.1,"y":-0.2},{"x":18.5,"y":0.3},{"x":18.8,"y":-0.2},{"x":19.2,"y":0.2},{"x":19.6,"y":-0.2},{"x":20.0,"y":0.3},{"x":20.4,"y":-0.2},{"x":20.8,"y":0.2},{"x":21.2,"y":-0.3},{"x":21.6,"y":0.3},{"x":22.0,"y":-0.2},{"x":22.4,"y":0.3},{"x":22.8,"y":-0.2},{"x":23.2,"y":0.2},{"x":23.6,"y":-0.2},{"x":23.95,"y":0.3}],
"t":[{"x":0.08,"y":0},{"x":0.65,"y":0},{"x":0.7,"y":0.3},{"x":0.75,"y":-0.3},{"x":0.8,"y":0.2},{"x":0.85,"y":-0.2},{"x":0.9,"y":0},{"x":1.1,"y":0},{"x":1.15,"y":0.2},{"x":1.2,"y":-0.3},{"x":1.25,"y":0.2},{"x":1.3,"y":0},{"x":2.6,"y":0},{"x":2.65,"y":0.3},{"x":2.7,"y":-0.3},{"x":2.75,"y":0.2},{"x":2.8,"y":0},{"x":3.7,"y":0},{"x":3.75,"y":0.3},{"x":3.8,"y":-0.3},{"x":3.85,"y":0.3},{"x":3.9,"y":-0.2},{"x":3.95,"y":0},{"x":7.2,"y":0},{"x":7.28,"y":0.1},{"x":7.36,"y":-0.1},{"x":7.44,"y":0.2},{"x":7.52,"y":-0.2},{"x":7.6,"y":0.1},{"x":7.68,"y":-0.2},{"x":7.76,"y":0.2},{"x":7.84,"y":-0.1},{"x":7.92,"y":0.3},{"x":8.0,"y":-0.3},{"x":8.08,"y":0.2},{"x":8.16,"y":-0.3},{"x":8.24,"y":0.4},{"x":8.32,"y":-0.3},{"x":8.4,"y":0.4},{"x":8.48,"y":-0.5},{"x":8.56,"y":0.6},{"x":8.64,"y":-0.4},{"x":8.72,"y":0.9},{"x":8.8,"y":-1.5},{"x":8.88,"y":1.3},{"x":8.96,"y":-1.0},{"x":9.04,"y":1.2},{"x":9.12,"y":-0.9},{"x":9.2,"y":0.7},{"x":9.28,"y":-0.6},{"x":9.36,"y":0.5},{"x":9.44,"y":-0.4},{"x":9.52,"y":0.6},{"x":9.6,"y":-0.5},{"x":9.68,"y":0.8},{"x":9.76,"y":-0.7},{"x":9.84,"y":0.6},{"x":9.92,"y":-0.8},{"x":10.0,"y":0.7},{"x":10.08,"y":-0.5},{"x":10.16,"y":0.6},{"x":10.24,"y":-0.8},{"x":10.32,"y":0.9},{"x":10.4,"y":-0.7},{"x":10.48,"y":0.8},{"x":10.56,"y":1.7},{"x":10.64,"y":-1.0},{"x":10.72,"y":0.8},{"x":10.8,"y":-2.6},{"x":10.88,"y":1.0},{"x":10.96,"y":-0.8},{"x":11.04,"y":0.6},{"x":11.12,"y":-0.9},{"x":11.2,"y":2.1},{"x":11.28,"y":-1.3},{"x":11.36,"y":0.8},{"x":11.44,"y":-0.6},{"x":11.52,"y":0.5},{"x":11.6,"y":-0.4},{"x":11.68,"y":0.6},{"x":11.76,"y":-0.5},{"x":11.84,"y":0.4},{"x":11.92,"y":-0.6},{"x":12.0,"y":0.5},{"x":12.08,"y":-0.3},{"x":12.16,"y":0.4},{"x":12.24,"y":-0.4},{"x":12.32,"y":0.6},{"x":12.4,"y":-0.5},{"x":12.48,"y":0.4},{"x":12.56,"y":-0.3},{"x":12.64,"y":0.5},{"x":12.72,"y":-0.6},{"x":12.8,"y":0.4},{"x":12.88,"y":-0.3},{"x":12.96,"y":0.3},{"x":13.04,"y":-0.4},{"x":13.12,"y":0.5},{"x":13.2,"y":-0.4},{"x":13.28,"y":0.3},{"x":13.36,"y":-0.3},{"x":13.44,"y":0.4},{"x":13.52,"y":-0.6},{"x":13.6,"y":0.8},{"x":13.68,"y":2.1},{"x":13.76,"y":-1.5},{"x":13.84,"y":0.6},{"x":13.92,"y":-0.5},{"x":14.0,"y":0.4},{"x":14.08,"y":-0.3},{"x":14.16,"y":0.4},{"x":14.24,"y":-0.4},{"x":14.32,"y":0.5},{"x":14.4,"y":-0.4},{"x":14.48,"y":0.3},{"x":14.56,"y":-0.5},{"x":14.64,"y":0.6},{"x":14.72,"y":-0.4},{"x":14.8,"y":0.5},{"x":14.88,"y":-0.6},{"x":14.96,"y":0.7},{"x":15.04,"y":-0.5},{"x":15.12,"y":0.6},{"x":15.2,"y":-0.7},{"x":15.28,"y":0.8},{"x":15.36,"y":-0.6},{"x":15.44,"y":0.9},{"x":15.52,"y":-0.7},{"x":15.6,"y":0.6},{"x":15.68,"y":-0.8},{"x":15.76,"y":0.7},{"x":15.84,"y":-0.5},{"x":15.92,"y":0.6},{"x":16.0,"y":-0.7},{"x":16.08,"y":0.5},{"x":16.16,"y":-0.6},{"x":16.24,"y":0.8},{"x":16.32,"y":-0.6},{"x":16.4,"y":0.5},{"x":16.48,"y":-0.5},{"x":16.56,"y":0.7},{"x":16.64,"y":-0.8},{"x":16.72,"y":1.0},{"x":16.8,"y":-1.2},{"x":16.88,"y":1.5},{"x":16.96,"y":-1.4},{"x":17.04,"y":1.1},{"x":17.12,"y":-0.8},{"x":17.2,"y":0.5},{"x":17.28,"y":-0.4},{"x":17.36,"y":0.3},{"x":17.44,"y":-0.3},{"x":17.52,"y":0.3},{"x":17.6,"y":-0.2},{"x":17.68,"y":0.3},{"x":17.76,"y":-0.3},{"x":17.84,"y":0.2},{"x":17.92,"y":-0.2},{"x":18.0,"y":0.2},{"x":18.1,"y":-0.2},{"x":18.2,"y":0.3},{"x":18.3,"y":-0.2},{"x":18.4,"y":0.2},{"x":18.5,"y":-0.1},{"x":18.6,"y":0.2},{"x":18.7,"y":-0.2},{"x":18.8,"y":0.1},{"x":18.9,"y":-0.1},{"x":19.0,"y":0.2},{"x":19.1,"y":-0.2},{"x":19.3,"y":0.1},{"x":19.5,"y":-0.1},{"x":19.7,"y":0.2},{"x":19.8,"y":-0.2},{"x":20.0,"y":0.1},{"x":20.2,"y":-0.1},{"x":20.4,"y":0.1},{"x":20.6,"y":-0.1},{"x":20.8,"y":0.3},{"x":20.9,"y":-0.3},{"x":21.0,"y":0.2},{"x":21.1,"y":-0.2},{"x":21.2,"y":0.3},{"x":21.3,"y":-0.3},{"x":21.4,"y":0.4},{"x":21.5,"y":-0.3},{"x":21.6,"y":0.3},{"x":21.7,"y":-0.4},{"x":21.8,"y":0.3},{"x":21.9,"y":-0.3},{"x":22.0,"y":0.4},{"x":22.1,"y":-0.4},{"x":22.2,"y":0.5},{"x":22.3,"y":-0.3},{"x":22.4,"y":0.4},{"x":22.5,"y":-0.4},{"x":22.6,"y":0.3},{"x":22.7,"y":-0.3},{"x":22.8,"y":0.4},{"x":22.9,"y":-0.3},{"x":23.0,"y":0.3},{"x":23.1,"y":-0.4},{"x":23.2,"y":0.4},{"x":23.3,"y":-0.3},{"x":23.4,"y":0.3},{"x":23.5,"y":-0.3},{"x":23.6,"y":0.4},{"x":23.7,"y":-0.3},{"x":23.8,"y":0.3},{"x":23.9,"y":-0.2},{"x":24.0,"y":0}],
"u":[{"x":0.08,"y":0},{"x":0.7,"y":0},{"x":0.75,"y":0.4},{"x":0.8,"y":-0.5},{"x":0.85,"y":0.5},{"x":0.9,"y":-0.4},{"x":0.95,"y":0.3},{"x":1.0,"y":-0.3},{"x":1.05,"y":0.4},{"x":1.1,"y":-0.4},{"x":1.15,"y":0.3},{"x":1.2,"y":-0.2},{"x":1.25,"y":0},{"x":2.6,"y":0},{"x":2.65,"y":0.3},{"x":2.7,"y":-0.3},{"x":2.75,"y":0.2},{"x":2.8,"y":0},{"x":3.5,"y":0},{"x":3.55,"y":0.15},{"x":3.6,"y":-0.15},{"x":3.65,"y":0},{"x":3.85,"y":0},{"x":3.9,"y":0.2},{"x":3.95,"y":-0.2},{"x":4.0,"y":0},{"x":4.7,"y":0},{"x":4.75,"y":0.25},{"x":4.8,"y":-0.25},{"x":4.85,"y":0},{"x":7.2,"y":0},{"x":7.3,"y":0.2},{"x":7.4,"y":-0.3},{"x":7.5,"y":0.3},{"x":7.6,"y":-0.2},{"x":7.7,"y":0.4},{"x":7.8,"y":-0.3},{"x":7.9,"y":0.3},{"x":8.0,"y":-0.4},{"x":8.1,"y":0.5},{"x":8.2,"y":-0.3},{"x":8.3,"y":0.4},{"x":8.4,"y":-0.5},{"x":8.5,"y":0.6},{"x":8.6,"y":-0.8},{"x":8.7,"y":1.1},{"x":8.8,"y":-1.3},{"x":8.9,"y":0.9},{"x":9.0,"y":-1.0},{"x":9.1,"y":0.8},{"x":9.2,"y":-0.6},{"x":9.3,"y":0.7},{"x":9.4,"y":-0.5},{"x":9.5,"y":0.6},{"x":9.6,"y":-0.8},{"x":9.7,"y":0.7},{"x":9.8,"y":-0.6},{"x":9.9,"y":0.9},{"x":10.0,"y":-1.0},{"x":10.1,"y":1.2},{"x":10.2,"y":-0.9},{"x":10.3,"y":1.3},{"x":10.4,"y":-1.2},{"x":10.5,"y":0.9},{"x":10.6,"y":-1.1},{"x":10.7,"y":1.3},{"x":10.8,"y":-1.0},{"x":10.9,"y":1.1},{"x":11.0,"y":-0.9},{"x":11.1,"y":0.8},{"x":11.2,"y":-0.7},{"x":11.3,"y":0.6},{"x":11.4,"y":-0.8},{"x":11.5,"y":0.7},{"x":11.52,"y":-0.5},{"x":11.56,"y":2.4},{"x":11.6,"y":-3.05},{"x":11.7,"y":0.5},{"x":11.8,"y":-0.6},{"x":11.9,"y":0.4},{"x":12.0,"y":-0.5},{"x":12.1,"y":0.4},{"x":12.2,"y":-0.3},{"x":12.3,"y":0.3},{"x":12.4,"y":-0.2},{"x":12.5,"y":0.3},{"x":12.6,"y":-0.3},{"x":12.7,"y":0.2},{"x":12.8,"y":-0.3},{"x":12.9,"y":0.3},{"x":13.0,"y":-0.2},{"x":13.1,"y":0.2},{"x":13.2,"y":-0.3},{"x":13.3,"y":0.3},{"x":13.4,"y":-0.2},{"x":13.5,"y":0.3},{"x":13.6,"y":-0.3},{"x":13.7,"y":0.2},{"x":13.8,"y":-0.2},{"x":13.9,"y":0.3},{"x":14.0,"y":-0.3},{"x":14.1,"y":0.2},{"x":14.2,"y":-0.4},{"x":14.3,"y":0.6},{"x":14.4,"y":-0.8},{"x":14.5,"y":0.9},{"x":14.6,"y":-1.1},{"x":14.7,"y":1.2},{"x":14.8,"y":-1.0},{"x":14.9,"y":1.3},{"x":15.0,"y":-1.1},{"x":15.1,"y":0.9},{"x":15.2,"y":-1.0},{"x":15.3,"y":0.8},{"x":15.4,"y":-0.9},{"x":15.5,"y":0.7},{"x":15.6,"y":-0.6},{"x":15.7,"y":0.7},{"x":15.8,"y":-0.6},{"x":15.9,"y":0.5},{"x":16.0,"y":-0.7},{"x":16.1,"y":0.6},{"x":16.2,"y":-0.8},{"x":16.3,"y":0.9},{"x":16.4,"y":-0.7},{"x":16.5,"y":0.8},{"x":16.6,"y":-1.0},{"x":16.7,"y":1.2},{"x":16.75,"y":-1.3},{"x":16.8,"y":1.5},{"x":16.85,"y":-1.4},{"x":16.9,"y":1.0},{"x":17.0,"y":-0.6},{"x":17.1,"y":0.4},{"x":17.2,"y":-0.3},{"x":17.3,"y":0.3},{"x":17.4,"y":-0.2},{"x":17.5,"y":0.2},{"x":17.6,"y":-0.3},{"x":17.7,"y":0.3},{"x":17.8,"y":-0.2},{"x":17.9,"y":0.2},{"x":18.0,"y":-0.3},{"x":18.1,"y":0.3},{"x":18.2,"y":-0.2},{"x":18.3,"y":0.2},{"x":18.4,"y":-0.1},{"x":18.5,"y":0.1},{"x":18.6,"y":-0.2},{"x":18.7,"y":0.3},{"x":18.8,"y":-0.3},{"x":18.9,"y":0.2},{"x":19.0,"y":-0.2},{"x":19.1,"y":0.3},{"x":19.2,"y":-0.2},{"x":19.3,"y":0.1},{"x":19.4,"y":-0.1},{"x":19.5,"y":0.2},{"x":19.6,"y":-0.2},{"x":19.7,"y":0.1},{"x":19.8,"y":-0.1},{"x":19.9,"y":0.2},{"x":20.0,"y":-0.2},{"x":20.1,"y":0.1},{"x":20.2,"y":-0.1},{"x":20.3,"y":0.1},{"x":20.4,"y":-0.1},{"x":20.5,"y":0.3},{"x":20.6,"y":-0.4},{"x":20.7,"y":0.3},{"x":20.8,"y":-0.3},{"x":20.9,"y":0.4},{"x":21.0,"y":-0.4},{"x":21.1,"y":0.3},{"x":21.2,"y":-0.3},{"x":21.3,"y":0.2},{"x":21.4,"y":-0.3},{"x":21.5,"y":0.3},{"x":21.6,"y":-0.2},{"x":21.7,"y":0.2},{"x":21.8,"y":-0.3},{"x":21.9,"y":0.4},{"x":22.0,"y":-0.3},{"x":22.1,"y":0.3},{"x":22.2,"y":-0.2},{"x":22.3,"y":0.1},{"x":22.4,"y":-0.1},{"x":22.5,"y":0.2},{"x":22.6,"y":-0.3},{"x":22.7,"y":0.4},{"x":22.8,"y":-0.4},{"x":22.9,"y":0.3},{"x":23.0,"y":-0.3},{"x":23.1,"y":0.4},{"x":23.2,"y":-0.3},{"x":23.3,"y":0.3},{"x":23.4,"y":-0.4},{"x":23.5,"y":0.3},{"x":23.6,"y":-0.3},{"x":23.7,"y":0.4},{"x":23.8,"y":-0.3},{"x":23.9,"y":0.2},{"x":24.0,"y":0}],
"v":[{"x":0.08,"y":0},{"x":0.7,"y":0},{"x":0.75,"y":0.5},{"x":0.8,"y":-0.6},{"x":0.85,"y":0.6},{"x":0.9,"y":-0.5},{"x":0.95,"y":0.5},{"x":1.0,"y":-0.4},{"x":1.05,"y":0.5},{"x":1.1,"y":-0.5},{"x":1.15,"y":0.4},{"x":1.2,"y":-0.3},{"x":1.25,"y":0},{"x":2.65,"y":0},{"x":2.7,"y":0.5},{"x":2.75,"y":-0.5},{"x":2.8,"y":0.3},{"x":2.85,"y":0},{"x":3.4,"y":0},{"x":3.45,"y":0.4},{"x":3.5,"y":-0.4},{"x":3.55,"y":0},{"x":3.8,"y":0},{"x":3.85,"y":0.4},{"x":3.9,"y":-0.4},{"x":3.95,"y":0},{"x":4.1,"y":0},{"x":4.15,"y":0.5},{"x":4.2,"y":-0.5},{"x":4.25,"y":0},{"x":4.75,"y":0},{"x":4.8,"y":0.4},{"x":4.85,"y":-0.4},{"x":4.9,"y":0},{"x":7.2,"y":0},{"x":7.3,"y":0.4},{"x":7.4,"y":-0.5},{"x":7.5,"y":0.5},{"x":7.6,"y":-0.4},{"x":7.7,"y":0.6},{"x":7.8,"y":-0.5},{"x":7.9,"y":0.4},{"x":8.0,"y":-0.6},{"x":8.1,"y":0.5},{"x":8.2,"y":-0.4},{"x":8.3,"y":0.6},{"x":8.4,"y":-0.5},{"x":8.5,"y":0.7},{"x":8.6,"y":-0.6},{"x":8.7,"y":0.8},{"x":8.8,"y":-0.7},{"x":8.9,"y":0.6},{"x":9.0,"y":-0.8},{"x":9.1,"y":0.9},{"x":9.2,"y":-0.7},{"x":9.3,"y":0.6},{"x":9.4,"y":-0.5},{"x":9.5,"y":0.7},{"x":9.6,"y":-0.8},{"x":9.7,"y":0.6},{"x":9.8,"y":-0.7},{"x":9.9,"y":0.8},{"x":10.0,"y":-0.9},{"x":10.1,"y":1.0},{"x":10.2,"y":-0.8},{"x":10.3,"y":1.1},{"x":10.4,"y":-1.2},{"x":10.5,"y":1.5},{"x":10.6,"y":-2.5},{"x":10.65,"y":1.4},{"x":10.7,"y":-1.6},{"x":10.8,"y":1.2},{"x":10.9,"y":-1.0},{"x":11.0,"y":0.9},{"x":11.1,"y":-1.0},{"x":11.15,"y":2.1},{"x":11.2,"y":-1.5},{"x":11.3,"y":0.9},{"x":11.4,"y":-0.8},{"x":11.5,"y":0.7},{"x":11.6,"y":-0.6},{"x":11.7,"y":0.7},{"x":11.8,"y":-0.6},{"x":11.9,"y":0.5},{"x":12.0,"y":-0.6},{"x":12.1,"y":0.6},{"x":12.2,"y":-0.5},{"x":12.3,"y":0.5},{"x":12.4,"y":-0.6},{"x":12.5,"y":0.5},{"x":12.6,"y":-0.4},{"x":12.7,"y":0.5},{"x":12.8,"y":-0.5},{"x":12.9,"y":0.4},{"x":13.0,"y":-0.5},{"x":13.1,"y":0.6},{"x":13.2,"y":-0.4},{"x":13.3,"y":0.5},{"x":13.4,"y":-0.5},{"x":13.5,"y":0.4},{"x":13.6,"y":-0.4},{"x":13.7,"y":0.3},{"x":13.8,"y":-0.3},{"x":13.9,"y":0.4},{"x":14.0,"y":-0.5},{"x":14.1,"y":0.6},{"x":14.2,"y":-0.5},{"x":14.3,"y":0.7},{"x":14.4,"y":-0.6},{"x":14.5,"y":0.8},{"x":14.6,"y":-0.7},{"x":14.7,"y":0.6},{"x":14.8,"y":-0.8},{"x":14.9,"y":0.7},{"x":15.0,"y":-0.6},{"x":15.1,"y":0.8},{"x":15.2,"y":-0.7},{"x":15.3,"y":0.9},{"x":15.4,"y":-0.8},{"x":15.5,"y":0.7},{"x":15.6,"y":-0.9},{"x":15.7,"y":2.0},{"x":15.75,"y":-1.6},{"x":15.8,"y":0.9},{"x":15.9,"y":-0.8},{"x":16.0,"y":0.7},{"x":16.1,"y":-0.9},{"x":16.2,"y":0.8},{"x":16.3,"y":-0.7},{"x":16.4,"y":0.6},{"x":16.5,"y":-0.8},{"x":16.6,"y":0.7},{"x":16.7,"y":-0.9},{"x":16.8,"y":1.0},{"x":16.9,"y":-0.8},{"x":17.0,"y":0.6},{"x":17.1,"y":-0.5},{"x":17.2,"y":0.4},{"x":17.3,"y":-0.4},{"x":17.4,"y":0.3},{"x":17.5,"y":-0.3},{"x":17.6,"y":0.4},{"x":17.7,"y":-0.3},{"x":17.8,"y":0.3},{"x":17.9,"y":-0.4},{"x":18.0,"y":0.3},{"x":18.1,"y":-0.3},{"x":18.2,"y":0.2},{"x":18.3,"y":-0.2},{"x":18.4,"y":0.3},{"x":18.5,"y":-0.3},{"x":18.6,"y":0.2},{"x":18.7,"y":-0.3},{"x":18.8,"y":0.3},{"x":18.9,"y":-0.2},{"x":19.0,"y":0.2},{"x":19.1,"y":-0.3},{"x":19.2,"y":0.3},{"x":19.3,"y":-0.4},{"x":19.4,"y":0.3},{"x":19.5,"y":-0.2},{"x":19.6,"y":0.2},{"x":19.7,"y":-0.3},{"x":19.8,"y":0.3},{"x":19.9,"y":-0.2},{"x":20.0,"y":0.3},{"x":20.1,"y":-0.3},{"x":20.2,"y":0.2},{"x":20.3,"y":-0.2},{"x":20.4,"y":0.3},{"x":20.5,"y":-0.3},{"x":20.6,"y":0.2},{"x":20.7,"y":-0.2},{"x":20.8,"y":0.4},{"x":20.9,"y":-0.5},{"x":21.0,"y":0.4},{"x":21.1,"y":-0.5},{"x":21.2,"y":0.5},{"x":21.3,"y":-0.4},{"x":21.4,"y":0.5},{"x":21.5,"y":-0.5},{"x":21.6,"y":0.4},{"x":21.7,"y":-0.6},{"x":21.8,"y":0.5},{"x":21.9,"y":-0.4},{"x":22.0,"y":0.5},{"x":22.1,"y":-0.6},{"x":22.2,"y":0.6},{"x":22.3,"y":-0.5},{"x":22.4,"y":0.4},{"x":22.5,"y":-0.5},{"x":22.6,"y":0.6},{"x":22.7,"y":-0.5},{"x":22.8,"y":0.4},{"x":22.9,"y":-0.4},{"x":23.0,"y":0.5},{"x":23.1,"y":-0.4},{"x":23.2,"y":0.5},{"x":23.3,"y":-0.5},{"x":23.4,"y":0.4},{"x":23.5,"y":-0.3},{"x":23.6,"y":0.4},{"x":23.7,"y":-0.4},{"x":23.8,"y":0.3},{"x":23.9,"y":-0.3},{"x":24.0,"y":0}]
},
"spacing":8,
"hconcat":[
{"bounds":"flush","spacing":19.75,"vconcat":[
{"data":{"name":"a"},"title":{"text":"2019-5-1"},"width":295,"height":34,"mark":"line","encoding":{"x":{"field":"x","type":"quantitative","scale":{"domain":[0,25],"nice":false},"axis":{"title":null,"labels":false,"values":[1,3,5,7,9,11,13,15,17,19,21,23]}},"y":{"field":"y","type":"quantitative","scale":{"domain":[9.1,27.4],"nice":false,"zero":false},"axis":{"title":"(a)","titleX":-23,"values":[10,15,20,25]}}}},
{"data":{"name":"b"},"width":295,"height":34,"mark":"line","encoding":{"x":{"field":"x","type":"quantitative","scale":{"domain":[0,25],"nice":false},"axis":{"title":null,"labels":false,"values":[1,3,5,7,9,11,13,15,17,19,21,23]}},"y":{"field":"y","type":"quantitative","scale":{"domain":[25.3,46.2],"nice":false,"zero":false},"axis":{"title":"(b)","titleX":-23,"values":[30,35,40,45]}}}},
{"data":{"name":"c"},"width":295,"height":34,"mark":"line","encoding":{"x":{"field":"x","type":"quantitative","scale":{"domain":[0,25],"nice":false},"axis":{"title":null,"labels":false,"values":[1,3,5,7,9,11,13,15,17,19,21,23]}},"y":{"field":"y","type":"quantitative","scale":{"domain":[27.4,35.2],"nice":false,"zero":false},"axis":{"title":"(c)","titleX":-23,"values":[30,35]}}}},
{"data":{"name":"d"},"width":295,"height":34,"mark":"line","encoding":{"x":{"field":"x","type":"quantitative","scale":{"domain":[0,25],"nice":false},"axis":{"title":null,"labels":false,"values":[1,3,5,7,9,11,13,15,17,19,21,23]}},"y":{"field":"y","type":"quantitative","scale":{"domain":[-1.07,1.07],"nice":false,"zero":false},"axis":{"title":"(d)","titleX":-23,"values":[-1,0,1]}}}},
{"data":{"name":"e"},"width":295,"height":34,"mark":"line","encoding":{"x":{"field":"x","type":"quantitative","scale":{"domain":[0,25],"nice":false},"axis":{"title":null,"labels":false,"values":[1,3,5,7,9,11,13,15,17,19,21,23]}},"y":{"field":"y","type":"quantitative","scale":{"domain":[-2.1,1.8],"nice":false,"zero":false},"axis":{"title":"(e)","titleX":-23,"values":[-2,-1,0,1]}}}},
{"data":{"name":"f"},"width":295,"height":34,"mark":"line","encoding":{"x":{"field":"x","type":"quantitative","scale":{"domain":[0,25],"nice":false},"axis":{"title":null,"labels":false,"values":[1,3,5,7,9,11,13,15,17,19,21,23]}},"y":{"field":"y","type":"quantitative","scale":{"domain":[-2.7,4.3],"nice":false,"zero":false},"axis":{"title":"(f)","titleX":-23,"values":[-2,0,2,4]}}}},
{"data":{"name":"g"},"width":295,"height":34,"mark":"line","encoding":{"x":{"field":"x","type":"quantitative","scale":{"domain":[0,25],"nice":false},"axis":{"title":null,"labels":false,"values":[1,3,5,7,9,11,13,15,17,19,21,23]}},"y":{"field":"y","type":"quantitative","scale":{"domain":[-6.2,7.4],"nice":false,"zero":false},"axis":{"title":"(g)","titleX":-23,"values":[-5,0,5]}}}},
{"data":{"name":"h"},"width":295,"height":34,"mark":"line","encoding":{"x":{"field":"x","type":"quantitative","scale":{"domain":[0,25],"nice":false},"axis":{"title":null,"labels":false,"values":[1,3,5,7,9,11,13,15,17,19,21,23]}},"y":{"field":"y","type":"quantitative","scale":{"domain":[-5.8,6.0],"nice":false,"zero":false},"axis":{"title":"(h)","titleX":-23,"values":[-5,0,5]}}}},
{"data":{"name":"i"},"width":295,"height":34,"mark":{"type":"line","interpolate":"linear"},"encoding":{"x":{"field":"x","type":"quantitative","scale":{"domain":[0,25],"nice":false},"axis":{"title":null,"labels":false,"values":[1,3,5,7,9,11,13,15,17,19,21,23]}},"y":{"field":"y","type":"quantitative","scale":{"domain":[-2.6,2.6],"nice":false,"zero":false},"axis":{"title":"(i)","titleX":-23,"values":[-2,0,2]}}}},
{"data":{"name":"j"},"width":295,"height":34,"mark":{"type":"line","interpolate":"linear"},"encoding":{"x":{"field":"x","type":"quantitative","scale":{"domain":[0,25],"nice":false},"axis":{"title":null,"labels":false,"values":[1,3,5,7,9,11,13,15,17,19,21,23]}},"y":{"field":"y","type":"quantitative","scale":{"domain":[-3.1,2.3],"nice":false,"zero":false},"axis":{"title":"(j)","titleX":-23,"values":[-2,0,2]}}}},
{"data":{"name":"k"},"width":295,"height":34,"mark":{"type":"line","interpolate":"linear"},"encoding":{"x":{"field":"x","type":"quantitative","scale":{"domain":[0,25],"nice":false},"axis":{"title":null,"labels":true,"values":[1,3,5,7,9,11,13,15,17,19,21,23]}},"y":{"field":"y","type":"quantitative","scale":{"domain":[-2.35,2.25],"nice":false,"zero":false},"axis":{"title":"(k)","titleX":-23,"values":[-2,0,2]}}}}
]},
{"bounds":"flush","spacing":19.75,"vconcat":[
{"data":{"name":"l"},"title":{"text":"2019-5-6"},"width":295,"height":34,"mark":"line","encoding":{"x":{"field":"x","type":"quantitative","scale":{"domain":[0,25],"nice":false},"axis":{"title":null,"labels":false,"values":[1,3,5,7,9,11,13,15,17,19,21,23]}},"y":{"field":"y","type":"quantitative","scale":{"domain":[44.5,101.5],"nice":false,"zero":false},"axis":{"title":"(l)","titleX":-29,"values":[50,100]}}}},
{"data":{"name":"m"},"width":295,"height":34,"mark":"line","encoding":{"x":{"field":"x","type":"quantitative","scale":{"domain":[0,25],"nice":false},"axis":{"title":null,"labels":false,"values":[1,3,5,7,9,11,13,15,17,19,21,23]}},"y":{"field":"y","type":"quantitative","scale":{"domain":[39,71.3],"nice":false,"zero":false},"axis":{"title":"(m)","titleX":-29,"values":[40,60]}}}},
{"data":{"name":"n"},"width":295,"height":34,"mark":"line","encoding":{"x":{"field":"x","type":"quantitative","scale":{"domain":[0,25],"nice":false},"axis":{"title":null,"labels":false,"values":[1,3,5,7,9,11,13,15,17,19,21,23]}},"y":{"field":"y","type":"quantitative","scale":{"domain":[38.8,69.2],"nice":false,"zero":false},"axis":{"title":"(n)","titleX":-29,"values":[40,50,60]}}}},
{"data":{"name":"o"},"width":295,"height":34,"mark":"line","encoding":{"x":{"field":"x","type":"quantitative","scale":{"domain":[0,25],"nice":false},"axis":{"title":null,"labels":false,"values":[1,3,5,7,9,11,13,15,17,19,21,23]}},"y":{"field":"y","type":"quantitative","scale":{"domain":[-6.2,9.4],"nice":false,"zero":false},"axis":{"title":"(o)","titleX":-29,"values":[-5,0,5]}}}},
{"data":{"name":"p"},"width":295,"height":34,"mark":"line","encoding":{"x":{"field":"x","type":"quantitative","scale":{"domain":[0,25],"nice":false},"axis":{"title":null,"labels":false,"values":[1,3,5,7,9,11,13,15,17,19,21,23]}},"y":{"field":"y","type":"quantitative","scale":{"domain":[-3.9,3.0],"nice":false,"zero":false},"axis":{"title":"(p)","titleX":-29,"values":[-2,0,2]}}}},
{"data":{"name":"q"},"width":295,"height":34,"mark":"line","encoding":{"x":{"field":"x","type":"quantitative","scale":{"domain":[0,25],"nice":false},"axis":{"title":null,"labels":false,"values":[1,3,5,7,9,11,13,15,17,19,21,23]}},"y":{"field":"y","type":"quantitative","scale":{"domain":[-2.4,1.5],"nice":false,"zero":false},"axis":{"title":"(q)","titleX":-29,"values":[-2,-1,0,1]}}}},
{"data":{"name":"r"},"width":295,"height":34,"mark":"line","encoding":{"x":{"field":"x","type":"quantitative","scale":{"domain":[0,25],"nice":false},"axis":{"title":null,"labels":false,"values":[1,3,5,7,9,11,13,15,17,19,21,23]}},"y":{"field":"y","type":"quantitative","scale":{"domain":[-3.5,3.3],"nice":false,"zero":false},"axis":{"title":"(r)","titleX":-29,"values":[-2,0,2]}}}},
{"data":{"name":"s"},"width":295,"height":34,"mark":"line","encoding":{"x":{"field":"x","type":"quantitative","scale":{"domain":[0,25],"nice":false},"axis":{"title":null,"labels":false,"values":[1,3,5,7,9,11,13,15,17,19,21,23]}},"y":{"field":"y","type":"quantitative","scale":{"domain":[-3.0,4.5],"nice":false,"zero":false},"axis":{"title":"(s)","titleX":-29,"values":[-2,0,2,4]}}}},
{"data":{"name":"t"},"width":295,"height":34,"mark":{"type":"line","interpolate":"linear"},"encoding":{"x":{"field":"x","type":"quantitative","scale":{"domain":[0,25],"nice":false},"axis":{"title":null,"labels":false,"values":[1,3,5,7,9,11,13,15,17,19,21,23]}},"y":{"field":"y","type":"quantitative","scale":{"domain":[-2.6,2.1],"nice":false,"zero":false},"axis":{"title":"(t)","titleX":-29,"values":[-2,0,2]}}}},
{"data":{"name":"u"},"width":295,"height":34,"mark":{"type":"line","interpolate":"linear"},"encoding":{"x":{"field":"x","type":"quantitative","scale":{"domain":[0,25],"nice":false},"axis":{"title":null,"labels":false,"values":[1,3,5,7,9,11,13,15,17,19,21,23]}},"y":{"field":"y","type":"quantitative","scale":{"domain":[-3.05,2.4],"nice":false,"zero":false},"axis":{"title":"(u)","titleX":-29,"values":[-2,0,2]}}}},
{"data":{"name":"v"},"width":295,"height":34,"mark":{"type":"line","interpolate":"linear"},"encoding":{"x":{"field":"x","type":"quantitative","scale":{"domain":[0,25],"nice":false},"axis":{"title":null,"labels":true,"values":[1,3,5,7,9,11,13,15,17,19,21,23]}},"y":{"field":"y","type":"quantitative","scale":{"domain":[-2.55,2.1],"nice":false,"zero":false},"axis":{"title":"(v)","titleX":-29,"values":[-2,0,2]}}}}
]}
]
}
